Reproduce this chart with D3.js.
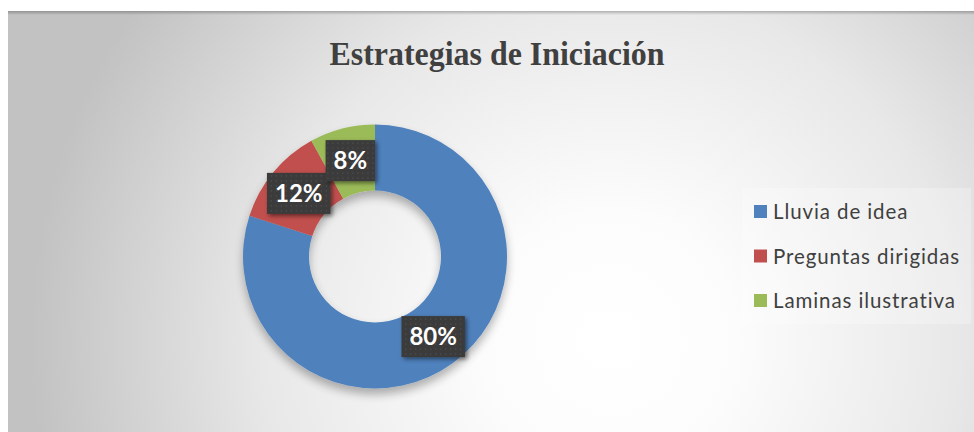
<!DOCTYPE html>
<html><head><meta charset="utf-8">
<script src="https://cdn.jsdelivr.net/npm/d3@7"></script>
<style>html,body{margin:0;padding:0;background:#fff;overflow:hidden}</style>
</head><body>
<script>
const categories = ["Lluvia de idea", "Preguntas dirigidas", "Laminas ilustrativa"];
const values = [80, 12, 8];
const labels = ["80%", "12%", "8%"];
const colors = ["#4F81BD", "#C0504D", "#9BBB59"];
const title = "Estrategias de Iniciación";

const W = 974, H = 432;
const svg = d3.select("body").append("svg").attr("width", W).attr("height", H);
const defs = svg.append("defs");

const rg = defs.append("radialGradient").attr("id", "bg")
  .attr("gradientUnits", "userSpaceOnUse")
  .attr("cx", 610).attr("cy", 340).attr("r", 580);
rg.append("stop").attr("offset", "0").attr("stop-color", "#ffffff");
rg.append("stop").attr("offset", "0.22").attr("stop-color", "#fcfcfc");
rg.append("stop").attr("offset", "0.6").attr("stop-color", "#e8e8e8");
rg.append("stop").attr("offset", "1").attr("stop-color", "#c2c2c2");

const sh = defs.append("filter").attr("id", "sh").attr("x", "-20%").attr("y", "-20%").attr("width", "140%").attr("height", "150%");
sh.append("feGaussianBlur").attr("in", "SourceAlpha").attr("stdDeviation", 5);
sh.append("feOffset").attr("dx", 0).attr("dy", 6).attr("result", "b");
sh.append("feComponentTransfer").append("feFuncA").attr("type", "linear").attr("slope", 0.3);
const m = sh.append("feMerge"); m.append("feMergeNode"); m.append("feMergeNode").attr("in", "SourceGraphic");

const sh2 = defs.append("filter").attr("id", "sh2").attr("x", "-30%").attr("y", "-30%").attr("width", "160%").attr("height", "160%");
sh2.append("feGaussianBlur").attr("in", "SourceAlpha").attr("stdDeviation", 2);
sh2.append("feOffset").attr("dx", 2).attr("dy", 2).attr("result", "b");
sh2.append("feComponentTransfer").append("feFuncA").attr("type", "linear").attr("slope", 0.5);
const m2 = sh2.append("feMerge"); m2.append("feMergeNode"); m2.append("feMergeNode").attr("in", "SourceGraphic");

const pat = defs.append("pattern").attr("id", "dots").attr("patternUnits", "userSpaceOnUse").attr("width", 5).attr("height", 5);
pat.append("rect").attr("width", 5).attr("height", 5).attr("fill", "#3b3b3b");
pat.append("rect").attr("x", 2).attr("y", 2).attr("width", 1).attr("height", 1).attr("fill", "#5a5a5a");

const topSh = defs.append("linearGradient").attr("id", "topsh").attr("x1", 0).attr("y1", 0).attr("x2", 0).attr("y2", 1);
topSh.append("stop").attr("offset", 0).attr("stop-color", "#000").attr("stop-opacity", 0.25);
topSh.append("stop").attr("offset", 1).attr("stop-color", "#000").attr("stop-opacity", 0);

// chart area
svg.append("rect").attr("x", 8).attr("y", 11).attr("width", W - 8).attr("height", H - 11).attr("fill", "url(#bg)");
svg.append("rect").attr("x", 8).attr("y", 11).attr("width", W - 8).attr("height", 4).attr("fill", "url(#topsh)");

// title
svg.append("text").attr("x", 497).attr("y", 65).attr("text-anchor", "middle")
  .attr("font-family", "'Liberation Serif','Times New Roman',serif").attr("font-weight", "bold")
  .attr("font-size", 33).attr("fill", "#404040")
  .attr("textLength", 335).attr("lengthAdjust", "spacingAndGlyphs")
  .text(title);

// donut
const cx = 375, cy = 256.5, R = 132, r = 66;
const pie = d3.pie().sort(null).value(d => d);
const arcs = pie(values);
const arc = d3.arc().innerRadius(r).outerRadius(R);
const g = svg.append("g").attr("transform", `translate(${cx},${cy})`);
g.append("g").attr("filter", "url(#sh)").selectAll("path").data(arcs).join("path")
  .attr("d", arc).attr("fill", (d, i) => colors[i]);

// labels
const lblArc = d3.arc().innerRadius((r + R) / 2).outerRadius((r + R) / 2);
const lg = g.selectAll("g.lbl").data(arcs).join("g").attr("class", "lbl")
  .attr("transform", d => `translate(${lblArc.centroid(d)})`);
lg.each(function (d, i) {
  const s = d3.select(this);
  const t = s.append("text").attr("text-anchor", "middle").attr("dy", "0.36em")
    .attr("font-family", "Lato, 'Open Sans', sans-serif").attr("font-weight", "bold")
    .attr("font-size", 24).attr("fill", "#fff").text(labels[i]);
  const bb = t.node().getBBox();
  const w = bb.width + 16, h = 41;
  s.insert("rect", "text").attr("x", -w / 2).attr("y", -h / 2).attr("width", w).attr("height", h)
    .attr("fill", "url(#dots)").attr("filter", "url(#sh2)");
});

// legend
svg.append("rect").attr("x", 742).attr("y", 188).attr("width", 229).attr("height", 136)
  .attr("fill", "#ffffff").attr("fill-opacity", 0.25);
const leg = svg.append("g").selectAll("g").data(categories).join("g")
  .attr("transform", (d, i) => `translate(754, ${212 + i * 44.5})`);
leg.append("rect").attr("x", 0).attr("y", -7).attr("width", 13).attr("height", 13)
  .attr("fill", (d, i) => colors[i]);
leg.append("text").attr("x", 19).attr("y", 0).attr("dy", "0.36em")
  .attr("font-family", "Lato, 'Open Sans', sans-serif").attr("font-size", 20.5).attr("fill", "#404040")
  .attr("letter-spacing", 0.9)
  .text(d => d);
</script>
</body></html>
